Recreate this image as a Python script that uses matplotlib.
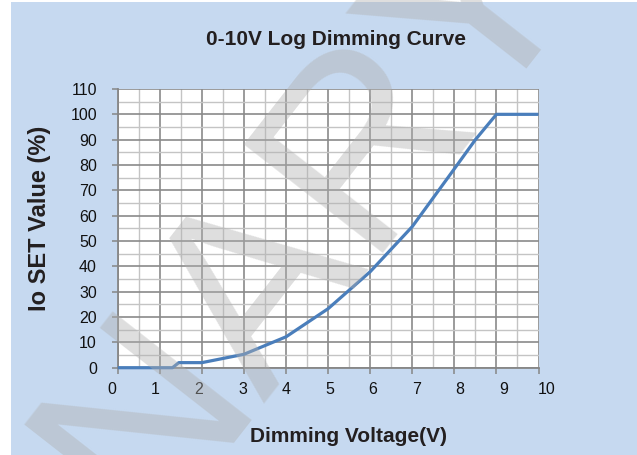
import matplotlib
matplotlib.use("Agg")
import matplotlib.pyplot as plt
from matplotlib.patches import Rectangle
from matplotlib.ticker import MultipleLocator
from matplotlib.transforms import ScaledTranslation

# ---- data ----
voltage = [0, 1.3, 1.45, 2, 3, 4, 5, 6, 7, 8, 8.5, 9, 10]
io_set = [0, 0, 2, 2, 5.3, 12.2, 23.3, 37.9, 55.7, 78.5, 90, 100, 100]
x_ticks = [0, 1, 2, 3, 4, 5, 6, 7, 8, 9, 10]
y_ticks = [0, 10, 20, 30, 40, 50, 60, 70, 80, 90, 100, 110]
title = "0-10V Log Dimming Curve"
x_label = "Dimming Voltage(V)"
y_label = "Io SET Value (%)"
watermark = "NARY"

W, H = 637, 455
fig = plt.figure(figsize=(W / 100, H / 100), dpi=100, facecolor="white")

# light-blue panel (small white strip at left / top)
fig.patches.append(Rectangle((11 / W, 0), 1 - 11 / W, 1 - 2 / H,
                             transform=fig.transFigure, facecolor="#c6d9f0",
                             edgecolor="none", zorder=-5))

left, right = 117.8 / W, 538.5 / W
top, bottom = 1 - 89 / H, 1 - 367.7 / H
ax = fig.add_axes([left, bottom, right - left, top - bottom])
ax.set_zorder(1)
ax.set_facecolor("white")

ax.plot(voltage, io_set, color="#4a7ebb", lw=2.3, solid_capstyle="butt",
        solid_joinstyle="round", zorder=5, clip_on=False)

ax.set_xlim(0, 10)
ax.set_ylim(0, 110)
ax.set_xticks(x_ticks)
ax.set_yticks(y_ticks)
ax.xaxis.set_minor_locator(MultipleLocator(0.5))
ax.yaxis.set_minor_locator(MultipleLocator(5))
ax.grid(which="major", color="#8a8a8a", lw=1.2, zorder=1)
ax.grid(which="minor", color="#c4c4c4", lw=1.0, zorder=1)
ax.set_axisbelow(True)

for s in ["top", "right"]:
    ax.spines[s].set_visible(False)
for s in ["left", "bottom"]:
    ax.spines[s].set_color("#868686")
    ax.spines[s].set_linewidth(1.3)

ax.tick_params(which="major", direction="out", length=4, width=1.1,
               color="#868686", labelsize=11.5, labelcolor="#111111")
ax.tick_params(which="minor", length=0)
ax.tick_params(axis="y", pad=11)
ax.tick_params(axis="x", pad=6)
for lab in ax.get_xticklabels() + ax.get_yticklabels():
    lab.set_fontfamily("Liberation Sans")

# tick labels in the original are spaced slightly wider than the ticks
for i, lab in enumerate(ax.get_xticklabels()):
    dx = (-5.8 + 1.43 * i) / 100.0
    lab.set_transform(lab.get_transform() + ScaledTranslation(dx, 0, fig.dpi_scale_trans))

txt_col = "#231f20"
fig.text(336 / W, 1 - 45 / H, title, ha="center", va="baseline",
         fontsize=15, fontweight="bold", family="Liberation Sans", color=txt_col)
fig.text(348 / W, 1 - 442 / H, x_label, ha="center", va="baseline",
         fontsize=15, fontweight="bold", family="Liberation Sans", color=txt_col)
fig.text(46 / W, 1 - 218 / H, y_label, ha="center", va="baseline", rotation=90,
         rotation_mode="anchor", fontsize=17, fontweight="bold",
         family="Liberation Sans", color=txt_col)

# watermark
fig.text(142 / W, 1 - 533 / H, watermark, rotation=52, rotation_mode="anchor",
         ha="left", va="baseline", fontsize=185,
         family="Liberation Sans", color="#b0b0b0", alpha=0.42, zorder=10)

fig.savefig("out.png", dpi=100, facecolor="white")
